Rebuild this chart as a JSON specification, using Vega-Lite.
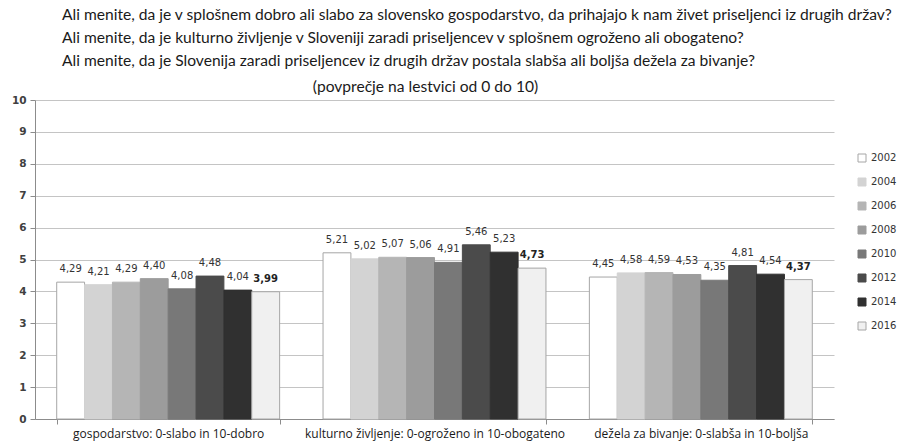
{
  "$schema": "https://vega.github.io/schema/vega-lite/v6.json",
  "width": 799,
  "height": 319,
  "autosize": {"type": "none"},
  "padding": {"left": 35, "top": 100, "right": 70, "bottom": 23},
  "background": "white",
  "config": {
    "locale": {"number": {"decimal": ",", "thousands": ".", "grouping": [3], "currency": ["", " €"]}},
    "view": {"stroke": null},
    "font": "DejaVu Sans"
  },
  "title": {
    "text": [
      "Ali menite, da je v splošnem dobro ali slabo za slovensko gospodarstvo, da prihajajo k nam živet priseljenci iz drugih držav?",
      "Ali menite, da je kulturno življenje v Sloveniji zaradi priseljencev v splošnem ogroženo ali obogateno?",
      "Ali menite, da je Slovenija zaradi priseljencev iz drugih držav postala slabša ali boljša dežela za bivanje?"
    ],
    "anchor": "start",
    "frame": "group",
    "dx": 27,
    "font": "Lato",
    "fontSize": 15.6,
    "fontWeight": "normal",
    "lineHeight": 23,
    "color": "#1a1a1a",
    "offset": 9
  },
  "data": {
    "values": [
      {"cat": "gospodarstvo: 0-slabo in 10-dobro", "year": "2002", "value": 4.29},
      {"cat": "gospodarstvo: 0-slabo in 10-dobro", "year": "2004", "value": 4.21},
      {"cat": "gospodarstvo: 0-slabo in 10-dobro", "year": "2006", "value": 4.29},
      {"cat": "gospodarstvo: 0-slabo in 10-dobro", "year": "2008", "value": 4.40},
      {"cat": "gospodarstvo: 0-slabo in 10-dobro", "year": "2010", "value": 4.08},
      {"cat": "gospodarstvo: 0-slabo in 10-dobro", "year": "2012", "value": 4.48},
      {"cat": "gospodarstvo: 0-slabo in 10-dobro", "year": "2014", "value": 4.04},
      {"cat": "gospodarstvo: 0-slabo in 10-dobro", "year": "2016", "value": 3.99},
      {"cat": "kulturno življenje: 0-ogroženo in 10-obogateno", "year": "2002", "value": 5.21},
      {"cat": "kulturno življenje: 0-ogroženo in 10-obogateno", "year": "2004", "value": 5.02},
      {"cat": "kulturno življenje: 0-ogroženo in 10-obogateno", "year": "2006", "value": 5.07},
      {"cat": "kulturno življenje: 0-ogroženo in 10-obogateno", "year": "2008", "value": 5.06},
      {"cat": "kulturno življenje: 0-ogroženo in 10-obogateno", "year": "2010", "value": 4.91},
      {"cat": "kulturno življenje: 0-ogroženo in 10-obogateno", "year": "2012", "value": 5.46},
      {"cat": "kulturno življenje: 0-ogroženo in 10-obogateno", "year": "2014", "value": 5.23},
      {"cat": "kulturno življenje: 0-ogroženo in 10-obogateno", "year": "2016", "value": 4.73},
      {"cat": "dežela za bivanje: 0-slabša in 10-boljša", "year": "2002", "value": 4.45},
      {"cat": "dežela za bivanje: 0-slabša in 10-boljša", "year": "2004", "value": 4.58},
      {"cat": "dežela za bivanje: 0-slabša in 10-boljša", "year": "2006", "value": 4.59},
      {"cat": "dežela za bivanje: 0-slabša in 10-boljša", "year": "2008", "value": 4.53},
      {"cat": "dežela za bivanje: 0-slabša in 10-boljša", "year": "2010", "value": 4.35},
      {"cat": "dežela za bivanje: 0-slabša in 10-boljša", "year": "2012", "value": 4.81},
      {"cat": "dežela za bivanje: 0-slabša in 10-boljša", "year": "2014", "value": 4.54},
      {"cat": "dežela za bivanje: 0-slabša in 10-boljša", "year": "2016", "value": 4.37}
    ]
  },
  "encoding": {
    "x": {
      "field": "cat",
      "type": "nominal",
      "sort": null,
      "scale": {"paddingInner": 0.163, "paddingOuter": 0.0815}
    },
    "xOffset": {"field": "year", "type": "nominal", "scale": {"paddingInner": 0, "paddingOuter": 0}},
    "y": {
      "field": "value",
      "type": "quantitative",
      "scale": {"domain": [0, 10], "nice": false},
      "axis": {
        "title": null,
        "values": [0, 1, 2, 3, 4, 5, 6, 7, 8, 9, 10],
        "grid": true,
        "gridColor": "#c4c4c4",
        "domainColor": "#8c8c8c",
        "tickColor": "#8c8c8c",
        "tickSize": 5,
        "labelFontSize": 10.5,
        "labelFontWeight": "bold",
        "labelColor": "#404040",
        "labelPadding": 4,
        "labelFont": "DejaVu Sans"
      }
    }
  },
  "resolve": {"axis": {"x": "independent"}},
  "layer": [
    {
      "mark": {"type": "bar", "strokeWidth": 1},
      "encoding": {
        "x": {
          "field": "cat",
          "type": "nominal",
          "sort": null,
          "axis": {
            "title": null,
            "labelAngle": 0,
            "labelFontSize": 12,
            "labelLimit": 0,
            "labelColor": "#1a1a1a",
            "labelPadding": 4,
            "tickBand": "extent",
            "tickSize": 5,
            "tickColor": "#8c8c8c",
            "domainColor": "#8c8c8c",
            "labelFont": "Open Sans"
          }
        },
        "fill": {
          "field": "year",
          "type": "nominal",
          "scale": {
            "domain": ["2002", "2004", "2006", "2008", "2010", "2012", "2014", "2016"],
            "range": ["#ffffff", "#d3d3d3", "#b5b5b5", "#9c9c9c", "#787878", "#4b4b4b", "#303030", "#f0f0f0"]
          },
          "legend": {
            "title": null,
            "orient": "none",
            "legendX": 822,
            "legendY": 53,
            "symbolType": "square",
            "symbolSize": 64,
            "symbolStrokeWidth": 1,
            "labelFontSize": 10,
            "labelColor": "#333333",
            "labelFont": "DejaVu Sans",
            "rowPadding": 12,
            "labelOffset": 4
          }
        },
        "stroke": {
          "field": "year",
          "type": "nominal",
          "scale": {
            "domain": ["2002", "2004", "2006", "2008", "2010", "2012", "2014", "2016"],
            "range": ["#a6a6a6", "#d3d3d3", "#b5b5b5", "#9c9c9c", "#787878", "#4b4b4b", "#303030", "#a6a6a6"]
          },
          "legend": {
            "title": null,
            "orient": "none",
            "legendX": 822,
            "legendY": 53,
            "symbolType": "square",
            "symbolSize": 64,
            "labelFontSize": 10,
            "labelFont": "DejaVu Sans",
            "rowPadding": 12,
            "labelOffset": 4
          }
        }
      }
    },
    {
      "transform": [{"filter": "datum.year != '2016'"}],
      "mark": {"type": "text", "baseline": "bottom", "dy": -8, "fontSize": 10, "color": "#333333", "font": "DejaVu Sans"},
      "encoding": {
        "x": {
          "field": "cat",
          "type": "nominal",
          "sort": null,
          "axis": {
            "orient": "top",
            "title": "(povprečje na lestvici od 0 do 10)",
            "titleFont": "Lato",
            "titleFontSize": 15.6,
            "titleFontWeight": "normal",
            "titleColor": "#1a1a1a",
            "titlePadding": 6,
            "titleX": 390,
            "labels": false,
            "ticks": false,
            "domain": false,
            "grid": false
          }
        },
        "text": {"field": "value", "type": "quantitative", "format": ".2f"}
      }
    },
    {
      "transform": [{"filter": "datum.year == '2016'"}],
      "mark": {"type": "text", "baseline": "bottom", "dy": -8, "fontSize": 10, "fontWeight": "bold", "color": "#222222", "font": "DejaVu Sans"},
      "encoding": {
        "x": {"field": "cat", "type": "nominal", "sort": null, "axis": null},
        "text": {"field": "value", "type": "quantitative", "format": ".2f"}
      }
    }
  ]
}
